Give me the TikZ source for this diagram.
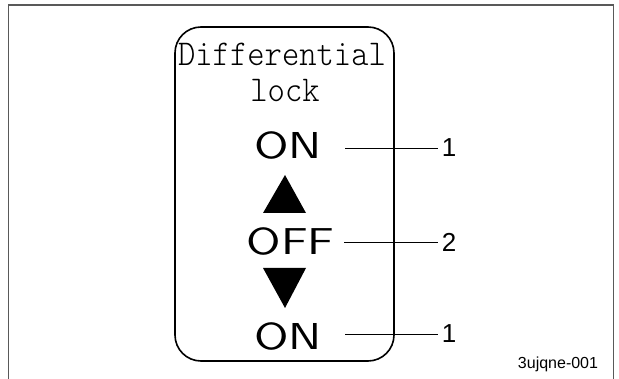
\documentclass[tikz,border=0pt]{standalone}
\usepackage{fontspec}
\setmainfont{Liberation Sans}
\newfontfamily\lockfont{lmmonolt10-regular.otf}
\newfontfamily\lampfont{lmsans10-regular.otf}
\usepackage{tikz}

\newcommand{\lamp}[1]{\scalebox{1.25}[1]{#1}}
\newcommand{\tall}[1]{\scalebox{1}[1.1]{#1}}

\begin{document}
\begin{tikzpicture}[x=1pt,y=-1pt,
    lamptext/.style={font=\lampfont\fontsize{37.5}{37.5}\selectfont,inner sep=0pt,anchor=base},
    locktext/.style={font=\lockfont\fontsize{33}{33}\selectfont,inner sep=0pt,anchor=base},
    callout/.style={font=\fontsize{26}{26}\selectfont,inner sep=4pt},
    leader/.style={line width=0.8pt}]
  \useasboundingbox (0,0) rectangle (619,379);
  % outer frame, open at the bottom
  \draw[line width=1.8pt,black!65] (8.5,379)--(8.5,5)--(613.5,5)--(613.5,379);
  % switch plate
  \draw[line width=1.6pt,rounded corners=26pt] (175,27) rectangle (394,361);
  \node[locktext] (title1) at (282,65.5) {\tall{Differential}};
  \node[locktext] (title2) at (285,102) {\tall{lock}};
  \node[lamptext] (on1) at (288,159) {\lamp{ON}};
  \node[lamptext] (off) at (290.5,255) {\lamp{OFF}};
  \node[lamptext] (on2) at (288,350) {\lamp{ON}};
  \fill (263,213)--(285,175)--(306,213)--cycle;
  \fill (263,268)--(306,268)--(285,308)--cycle;
  % callouts
  \node[callout] (n1) at (449,148) {1};
  \node[callout] (n2) at (449,242) {2};
  \node[callout] (n3) at (449,334) {1};
  \coordinate (l1) at (345,148);
  \coordinate (l2) at (344,242);
  \coordinate (l3) at (345,334);
  \draw[leader] (l1) -- (n1.west);
  \draw[leader] (l2) -- (n2.west);
  \draw[leader] (l3) -- (n3.west);
  \node[font=\fontsize{16}{16}\selectfont,inner sep=0pt,anchor=base] (code) at (558,369) {3ujqne-001};
\end{tikzpicture}
\end{document}
